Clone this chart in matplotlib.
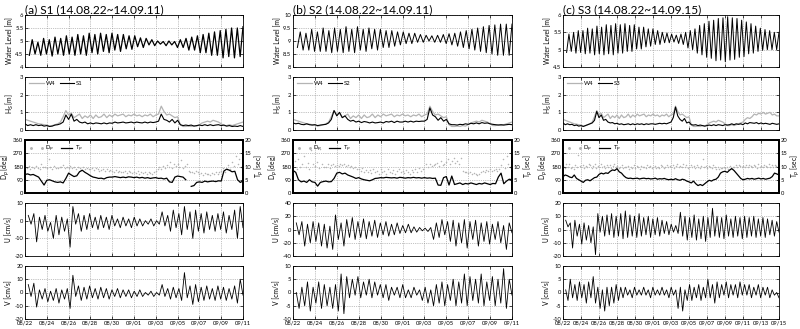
import matplotlib.pyplot as plt
import numpy as np
from matplotlib.lines import Line2D
from matplotlib.ticker import FuncFormatter

plt.rcParams['font.family'] = ['Lato', 'DejaVu Sans']

# ---------------- data ----------------
titles = ['(a) S1 (14.08.22~14.09.11)', '(b) S2 (14.08.22~14.09.11)', '(c) S3 (14.08.22~14.09.15)']
stations = ['S1', 'S2', 'S3']
days = [20, 20, 24]
date_labels = ['08/22', '08/24', '08/26', '08/28', '08/30', '09/01', '09/03',
               '09/05', '09/07', '09/09', '09/11', '09/13', '09/15']

# water level [m], alternating low / high turning points
wl_s1 = [4.45, 5.05, 4.5, 4.95, 4.45, 5.1, 4.5, 5.05, 4.42, 5.15, 4.5, 5.1, 4.45, 5.2, 4.5, 5.15,
         4.45, 5.25, 4.5, 5.2, 4.45, 5.3, 4.55, 5.25, 4.5, 5.3, 4.6, 5.25, 4.55, 5.3, 4.65, 5.25,
         4.6, 5.25, 4.7, 5.2, 4.68, 5.2, 4.78, 5.12, 4.75, 5.1, 4.85, 5.05, 4.82, 5.0, 4.88, 4.98,
         4.82, 5.0, 4.85, 4.98, 4.75, 5.05, 4.75, 5.1, 4.65, 5.15, 4.65, 5.2, 4.55, 5.25, 4.55, 5.3,
         4.45, 5.35, 4.45, 5.4, 4.35, 5.45, 4.4, 5.5, 4.35, 5.5, 4.4, 5.55]
wl_s2 = [8.75, 9.35, 8.65, 9.3, 8.65, 9.45, 8.6, 9.35, 8.6, 9.5, 8.6, 9.4, 8.55, 9.5, 8.6, 9.45,
         8.55, 9.55, 8.6, 9.45, 8.55, 9.55, 8.65, 9.45, 8.6, 9.5, 8.7, 9.45, 8.65, 9.45, 8.75, 9.4,
         8.75, 9.4, 8.8, 9.35, 8.85, 9.35, 8.9, 9.3, 8.9, 9.3, 8.95, 9.25, 8.95, 9.22, 9.0, 9.2,
         8.95, 9.22, 8.95, 9.25, 8.9, 9.28, 8.85, 9.3, 8.8, 9.35, 8.75, 9.4, 8.7, 9.45, 8.65, 9.5,
         8.6, 9.55, 8.55, 9.6, 8.5, 9.62, 8.45, 9.65, 8.45, 9.65, 8.45, 9.65]
wl_s3 = [4.92, 5.45, 4.95, 5.5, 4.9, 5.55, 4.92, 5.55, 4.88, 5.62, 4.9, 5.6, 4.85, 5.68, 4.88, 5.65,
         4.85, 5.72, 4.88, 5.7, 4.85, 5.75, 4.9, 5.72, 4.9, 5.75, 4.95, 5.7, 4.95, 5.72, 5.02, 5.65,
         5.02, 5.65, 5.08, 5.6, 5.1, 5.6, 5.15, 5.55, 5.15, 5.5, 5.2, 5.48, 5.2, 5.45, 5.22, 5.42,
         5.18, 5.45, 5.15, 5.5, 5.05, 5.55, 5.0, 5.6, 4.9, 5.7, 4.85, 5.75, 4.78, 5.82, 4.75, 5.85,
         4.68, 5.9, 4.7, 5.92, 4.65, 5.95, 4.7, 5.92, 4.72, 5.9, 4.78, 5.85, 4.8, 5.8, 4.88, 5.75,
         4.9, 5.68, 4.95, 5.62, 4.98, 5.58, 5.0, 5.55, 5.0, 5.5, 5.0, 5.5]

# significant wave height [m], every 6 h from 08/22
hs_w4 = [0.6, 0.55, 0.5, 0.45, 0.4, 0.35, 0.33, 0.3, 0.28, 0.22, 0.25, 0.3, 0.35, 0.45, 0.75, 1.1,
         0.85, 0.95, 0.7, 0.8, 0.9, 0.65, 0.8, 0.7, 0.85, 0.65, 0.85, 0.7, 0.75, 0.9, 0.7, 0.85,
         0.75, 0.9, 0.8, 0.85, 0.9, 0.75, 0.85, 0.8, 0.9, 0.8, 0.85, 0.75, 0.85, 0.8, 0.9, 0.75,
         0.85, 0.9, 1.35, 1.05, 0.85, 0.9, 0.8, 0.7, 0.75, 0.3, 0.2, 0.2, 0.22, 0.2, 0.25, 0.22,
         0.3, 0.4, 0.45, 0.5, 0.45, 0.55, 0.5, 0.45, 0.35, 0.25, 0.25, 0.3, 0.25, 0.3, 0.35, 0.4,
         0.45, 0.6, 0.7, 0.65, 0.75, 0.9, 0.85, 0.95, 0.9, 1.0, 0.9, 0.95, 1.0, 0.85, 0.9, 0.8, 0.8]
hs_s1 = [0.35, 0.25, 0.3, 0.25, 0.3, 0.25, 0.28, 0.22, 0.25, 0.2, 0.22, 0.28, 0.3, 0.35, 0.45, 0.85,
         0.6, 0.9, 0.5, 0.6, 0.45, 0.4, 0.45, 0.35, 0.4, 0.35, 0.4, 0.38, 0.35, 0.4, 0.35, 0.4,
         0.38, 0.45, 0.4, 0.42, 0.45, 0.4, 0.42, 0.45, 0.4, 0.45, 0.42, 0.4, 0.45, 0.4, 0.45, 0.42,
         0.45, 0.5, 0.9, 0.6, 0.55, 0.45, 0.6, 0.4, 0.55, 0.3, 0.25, 0.28, 0.25, 0.28, 0.22, 0.25,
         0.28, 0.25, 0.3, 0.25, 0.3, 0.25, 0.28, 0.3, 0.25, 0.28, 0.22, 0.25, 0.2, 0.22, 0.2, 0.25, 0.2]
hs_s2 = [0.4, 0.35, 0.38, 0.32, 0.3, 0.35, 0.3, 0.28, 0.3, 0.25, 0.28, 0.3, 0.32, 0.4, 0.6, 1.1,
         0.8, 1.0, 0.7, 0.8, 0.6, 0.5, 0.55, 0.45, 0.5, 0.42, 0.48, 0.45, 0.4, 0.45, 0.4, 0.42,
         0.45, 0.4, 0.48, 0.45, 0.5, 0.42, 0.5, 0.45, 0.45, 0.5, 0.45, 0.5, 0.45, 0.5, 0.48, 0.5,
         0.5, 0.6, 1.25, 0.85, 0.75, 0.55, 0.7, 0.5, 0.6, 0.35, 0.3, 0.3, 0.28, 0.32, 0.3, 0.35,
         0.32, 0.38, 0.35, 0.4, 0.35, 0.42, 0.38, 0.4, 0.35, 0.32, 0.3, 0.28, 0.3, 0.28, 0.3, 0.32, 0.3]
hs_s3 = [0.4, 0.3, 0.35, 0.3, 0.32, 0.25, 0.28, 0.22, 0.25, 0.2, 0.25, 0.3, 0.35, 0.4, 0.55, 1.05,
         0.7, 0.85, 0.55, 0.6, 0.45, 0.4, 0.42, 0.35, 0.38, 0.32, 0.35, 0.3, 0.32, 0.35, 0.3, 0.35,
         0.3, 0.35, 0.32, 0.35, 0.3, 0.35, 0.32, 0.35, 0.35, 0.32, 0.35, 0.38, 0.35, 0.38, 0.35, 0.4,
         0.45, 0.7, 1.3, 0.8, 0.6, 0.5, 0.65, 0.4, 0.45, 0.3, 0.28, 0.3, 0.25, 0.28, 0.25, 0.22,
         0.25, 0.28, 0.25, 0.3, 0.25, 0.3, 0.28, 0.25, 0.3, 0.28, 0.3, 0.35, 0.3, 0.35, 0.32, 0.35,
         0.3, 0.4, 0.35, 0.42, 0.4, 0.38, 0.42, 0.35, 0.4, 0.35, 0.38, 0.35, 0.32, 0.38, 0.35, 0.32, 0.35]

# peak wave direction [deg], every 4 h
dp_s1 = [175, 168, 182, 160, 178, 170, 185, 172, 165, 200, 176, 180, 170, 230, 178, 165, 185, 172,
         168, 180, 175, 190, 170, 176, 172, 185, 168, 178, 162, 180, 170, 158, 175, 165, 172, 160,
         165, 172, 155, 168, 160, 150, 158, 165, 150, 160, 148, 155, 150, 145, 158, 140, 152, 145,
         142, 150, 138, 148, 140, 135, 145, 138, 150, 132, 142, 136, 140, 132, 145, 138, 130, 142,
         150, 165, 178, 160, 185, 170, 190, 175, 210, 168, 195, 182, 200, 178, 225, 170, 185, 195,
         150, 140, 145, 135, 148, 140, 130, 138, 125, 135, 128, 132, 125, 135, 130, 140, 128, 145,
         150, 170, 145, 165, 190, 160, 210, 185, 250, 195, 230, 175, 200]
dp_s2 = [190, 215, 165, 230, 180, 200, 250, 175, 205, 160, 290, 195, 185, 210, 170, 300, 195, 178,
         180, 195, 172, 188, 200, 185, 192, 185, 198, 188, 195, 182, 190, 180, 185, 170, 175, 160,
         165, 150, 170, 145, 158, 140, 155, 135, 165, 145, 150, 130, 160, 140, 150, 128, 165, 145,
         138, 155, 132, 148, 160, 140, 150, 135, 158, 142, 130, 155, 145, 160, 140, 170, 150, 165,
         180, 195, 175, 200, 185, 190, 195, 205, 185, 215, 190, 200, 210, 230, 195, 215, 240, 205,
         220, 200, 235, 150, 140, 145, 135, 140, 128, 138, 130, 125, 132, 140, 150, 145, 155, 150,
         160, 148, 155, 165, 150, 160, 190, 230, 170, 250, 200, 180, 195]
dp_s3 = [185, 170, 195, 178, 200, 172, 180, 165, 190, 175, 260, 182, 175, 190, 168, 185, 178, 195,
         188, 172, 182, 198, 170, 185, 180, 195, 175, 185, 170, 192, 178, 188, 170, 182, 195, 175,
         185, 170, 180, 192, 168, 178, 175, 185, 165, 180, 172, 188, 170, 182, 175, 165, 185, 178,
         180, 168, 190, 175, 182, 170, 175, 185, 170, 180, 168, 188, 182, 172, 178, 190, 175, 185,
         178, 190, 172, 185, 200, 180, 185, 175, 195, 180, 188, 172, 180, 192, 175, 185, 170, 188,
         178, 170, 185, 230, 175, 182, 172, 185, 178, 168, 190, 175, 165, 178, 160, 172, 168, 180,
         170, 175, 165, 182, 172, 178, 180, 188, 175, 192, 185, 178, 185, 178, 192, 175, 188, 182,
         178, 190, 185, 172, 195, 180, 185, 175, 190, 182, 178, 195, 180, 192, 175, 188, 182, 178, 185]

# peak wave period [sec], every 6 h (nan = gap)
tp_s1 = [7.0, 7.2, 6.8, 7.0, 6.5, 6.0, 4.5, 3.0, 4.8, 5.0, 4.6, 4.2, 4.0, 4.2, 3.8, 5.5,
         7.5, 6.8, 6.2, 6.5, 8.0, 8.6, 7.8, 7.2, 6.5, 6.0, 5.8, 5.5, 5.6, 5.3, 5.8, 6.0,
         6.0, 6.2, 6.0, 5.8, 6.0, 5.8, 6.1, 6.0, 5.8, 6.0, 5.7, 5.9, 5.6, 5.8, 5.5, 5.7,
         5.8, 5.5, 5.6, 5.3, 5.6, 4.2, 4.0, 6.0, 6.4, 6.2, 6.0, 5.0, np.nan, 2.5, 2.8, 4.0,
         4.2, 4.0, 4.5, 4.2, 4.4, 4.5, 4.3, 4.6, 4.5, 8.3, 9.0, 8.6, 8.0, 8.2, 5.0, 4.0, 4.5]
tp_s2 = [8.5, 7.8, 5.0, 4.2, 4.5, 4.0, 5.0, 4.2, 4.0, 2.6, 4.0, 4.3, 4.5, 4.2, 4.3, 5.5,
         7.5, 7.8, 7.2, 7.5, 6.8, 6.4, 6.0, 5.5, 5.8, 5.3, 5.0, 4.8, 4.6, 5.0, 5.5, 5.6,
         5.8, 5.7, 5.9, 5.8, 5.7, 5.8, 5.6, 5.9, 5.8, 5.6, 5.8, 5.7, 5.9, 5.7, 5.8, 5.6,
         5.8, 5.6, 5.7, 5.5, 5.6, 3.0, 2.9, 5.8, 6.2, 3.0, 6.4, 3.2, 3.5, 3.8, 3.2, 3.6,
         3.4, 3.8, 3.5, 3.2, 3.6, 3.4, 3.8, 3.5, 3.2, 3.6, 3.5, 6.0, 7.5, 3.5, 4.5, 5.2, 5.0]
tp_s3 = [6.2, 6.8, 6.5, 6.0, 5.8, 6.8, 5.5, 5.0, 4.5, 4.0, 4.8, 5.0, 4.6, 5.2, 5.8, 6.0,
         7.0, 7.5, 7.2, 7.6, 7.4, 8.2, 8.7, 8.5, 9.2, 8.0, 7.5, 6.5, 5.8, 5.5, 5.6, 5.4,
         5.5, 5.6, 5.3, 5.5, 5.6, 5.4, 5.5, 5.3, 5.4, 5.6, 5.2, 5.4, 5.3, 5.5, 5.2, 5.0,
         5.2, 5.0, 5.4, 5.0, 4.8, 5.2, 5.0, 4.5, 4.2, 3.8, 4.5, 3.5, 2.8, 3.2, 2.8, 3.5,
         4.2, 4.8, 4.5, 5.0, 5.2, 6.0, 7.5, 8.0, 8.2, 7.8, 8.6, 9.2, 8.5, 7.5, 6.5, 5.5,
         5.0, 5.2, 5.5, 5.3, 5.5, 5.2, 5.4, 5.6, 5.3, 5.5, 5.2, 5.4, 5.6, 6.2, 7.5, 7.2, 6.8]

# current U [cm/s], alternating high / low turning points
u_s1 = [3, -2, 4, -12, 2, -5, 3, -6, -1, -10, 3, -8, 2, -6, 1, -15, 8, -2, 4, -6,
        3, -5, 4, -4, 2, -5, 3, -4, 2, -5, 3, -3, 1, -4, 2, -3, 1, -4, 2, -3,
        1, -3, 0, -2, 1, -3, 0, -2, 5, -3, 3, -6, 6, -4, 4, -8, 8, -5, 5, -10,
        6, -6, 4, -7, 5, -5, 3, -6, 4, -5, 5, -7, 3, -5, 6, -10, 8, -4]
u_s2 = [10, -8, 12, -25, 8, -20, 12, -18, 10, -25, 8, -28, 5, -30, 22, -15, 10, -25, 15, -12,
        18, -15, 12, -12, 16, -14, 12, -10, 14, -12, 10, -8, 12, -10, 8, -8, 10, -6, 6, -5,
        8, -5, 4, -4, 3, -2, 2, -3, 3, -15, 10, -12, 15, -8, 12, -18, 14, -25, 10, -20,
        15, -28, 12, -15, 14, -25, 10, -18, 12, -22, 8, -15, 12, -20, 6, -30, 10, -5]
u_s3 = [7, 2, 5, -14, 7, -5, 4, -11, 5, -8, 3, -10, 2, -19, 12, -2, 10, -5, 11, -4,
        12, -6, 10, -5, 12, -7, 14, -6, 11, -5, 10, -6, 12, -5, 9, -4, 10, -6, 8, -4,
        9, -5, 7, -3, 6, -4, 4, -2, 3, -3, 13, -5, 10, -8, 9, -6, 11, -8, 8, -7,
        10, -9, 9, -6, 16, -5, 10, -6, 9, -7, 11, -5, 8, -6, 10, -5, 9, -7, 10, -6,
        9, -5, 10, -6, 8, -5, 9, -6, 8, -4, 7, -5, 6, -2]

# current V [cm/s], alternating high / low turning points
v_s1 = [6, -3, 7, -11, 2, -5, 3, -7, 1, -6, 3, -8, 2, -5, 3, -12, 13, -3, 5, -6,
        4, -5, 5, -4, 3, -5, 4, -4, 3, -5, 2, -3, 3, -4, 2, -3, 2, -4, 1, -3,
        2, -3, 0, -2, 1, -3, 0, -2, 6, -3, 3, -5, 4, -4, 3, -6, 15, -4, 5, -9,
        6, -7, 4, -6, 5, -5, 3, -6, 5, -5, 4, -6, 3, -5, 5, -8, 10, -2]
v_s2 = [0, -6, 2, -5, 4, -7, 2, -4, 4, -6, 3, -5, 2, -6, 3, -7, 7, -8, 6, -2,
        5, -1, 6, -2, 4, -1, 5, -2, 4, -1, 3, -2, 3, -3, 2, -1, 2, -2, 3, -2,
        1, -2, 2, -1, 1, -3, 2, -4, 1, -5, 3, -4, 4, -5, 3, -3, 5, -5, 4, -4,
        7, -5, 6, -3, 5, -4, 7, -5, 4, -3, 6, -5, 5, -4, 9, -6, 5, -1]
v_s3 = [1, -3, 5, -2, 3, -3, 4, -2, 3, -4, 4, -2, 6, -4, 2, -6, 1, -7, 2, -5,
        2, -4, 3, -3, 2, -2, 2, -1, 1, -2, 2, -1, 1, -1, 2, -1, 1, -2, 2, -1,
        1, -1, 2, -1, 1, -2, 2, -1, 1, -6, 2, -7, 1, -3, 3, -3, 2, -2, 3, -3,
        2, -2, 5, -2, 3, -4, 4, -2, 3, -1, 4, -2, 3, -1, 3, -2, 4, -1, 3, -1,
        3, -2, 2, -1, 3, -2, 2, -1, 2, -2, 1, -1, 0, -2]

wl_all = [wl_s1, wl_s2, wl_s3]
hs_all = [hs_s1, hs_s2, hs_s3]
dp_all = [dp_s1, dp_s2, dp_s3]
tp_all = [tp_s1, tp_s2, tp_s3]
u_all = [u_s1, u_s2, u_s3]
v_all = [v_s1, v_s2, v_s3]

wl_ticks = [[4, 4.5, 5, 5.5, 6], [8, 8.5, 9, 9.5, 10], [4.5, 5, 5.5, 6]]
u_ticks = [[-20, -10, 0, 10], [-40, -20, 0, 20, 40], [-20, -10, 0, 10, 20]]
v_ticks = [[-20, -10, 0, 10, 20], [-10, -5, 0, 5, 10], [-10, -5, 0, 5, 10]]

# ---------------- layout ----------------
W, H = 800, 329
col_px = [(25, 243), (293, 512), (563, 779)]
row_px = [(15, 67), (77, 130), (140, 193), (203, 256), (266, 319)]
fs = 4.2     # tick labels
fl = 4.8     # axis labels
gfmt = FuncFormatter(lambda v, p: '%g' % v)

fig = plt.figure(figsize=(W / 100, H / 100), dpi=100)


def style(ax, nd, yt, show_x):
    ax.set_xlim(0, nd)
    ax.set_xticks(np.arange(0, nd + 1, 2))
    if show_x:
        ax.set_xticklabels(date_labels[:len(ax.get_xticks())])
    else:
        ax.set_xticklabels([])
    ax.set_yticks(yt)
    ax.set_ylim(yt[0], yt[-1])
    ax.yaxis.set_major_formatter(gfmt)
    ax.tick_params(direction='in', length=2, width=0.5, labelsize=fs, pad=1.2,
                   top=True, right=True)
    ax.grid(True, linestyle=':', color='#888888', linewidth=0.5)
    for s in ax.spines.values():
        s.set_linewidth(0.6)


for c in range(3):
    nd = days[c]
    x0, x1 = col_px[c]
    axs = []
    for r in range(5):
        top, bot = row_px[r]
        axs.append(fig.add_axes([x0 / W, 1 - bot / H, (x1 - x0) / W, (bot - top) / H]))

    # water level
    ax = axs[0]
    wl = wl_all[c]
    ax.plot(np.linspace(0.4, nd, len(wl)), wl, color='k', lw=0.9 if c == 0 else 0.7)
    style(ax, nd, wl_ticks[c], False)
    ax.set_ylabel('Water Level [m]', fontsize=fl, labelpad=1.5)
    ax.set_title(titles[c], fontsize=8.6, loc='left', pad=1.5, x=0.0)

    # wave height
    ax = axs[1]
    w4 = hs_w4[:4 * nd + 1]
    ax.plot(np.linspace(0, nd, len(w4)), w4, color='#b4b4b4', lw=0.9, label='W4')
    hs = hs_all[c]
    ax.plot(np.linspace(0, nd, len(hs)), hs, color='k', lw=0.8, label=stations[c])
    style(ax, nd, [0, 1, 2, 3], False)
    ax.set_ylabel('H$_S$ [m]', fontsize=fl, labelpad=2.5)
    ax.legend(loc='upper left', ncol=2, frameon=False, fontsize=fs, handlelength=2.5,
              columnspacing=0.8, handletextpad=0.3, borderaxespad=0.3)

    # direction / period
    ax = axs[2]
    dp = dp_all[c]
    ax.plot(np.linspace(0, nd, len(dp)), dp, '.', color='#b4b4b4', ms=2.2, mew=0)
    style(ax, nd, [0, 90, 180, 270, 360], False)
    ax.tick_params(right=False)
    ax.set_ylabel('D$_p$ [deg]', fontsize=fl, labelpad=0.5)
    tx = ax.twinx()
    tp = tp_all[c]
    tx.plot(np.linspace(0, nd, len(tp)), tp, color='k', lw=0.9)
    tx.set_ylim(0, 20)
    tx.set_yticks([0, 5, 10, 15, 20])
    tx.tick_params(direction='in', length=2, width=0.5, labelsize=fs, pad=1.2)
    tx.set_ylabel('T$_p$ [sec]', fontsize=fl, labelpad=0.5)
    for a in (ax, tx):
        for s in a.spines.values():
            s.set_linewidth(1.3)
    handles = [Line2D([], [], ls='none', marker='.', ms=2.2, color='#b4b4b4'),
               Line2D([], [], color='k', lw=0.9)]
    tx.legend(handles, ['D$_p$', 'T$_p$'], loc='upper left', ncol=2, frameon=False,
              fontsize=fs, numpoints=2, handlelength=2.5, columnspacing=0.8,
              handletextpad=0.3, borderaxespad=0.3)

    # U
    ax = axs[3]
    u = u_all[c]
    ax.plot(np.linspace(0.3, nd, len(u)), u, color='k', lw=0.6)
    style(ax, nd, u_ticks[c], False)
    ax.set_ylabel('U [cm/s]', fontsize=fl, labelpad=1.5)

    # V
    ax = axs[4]
    v = v_all[c]
    ax.plot(np.linspace(0.3, nd, len(v)), v, color='k', lw=0.6)
    style(ax, nd, v_ticks[c], True)
    ax.set_ylabel('V [cm/s]', fontsize=fl, labelpad=1.5)

fig.savefig('out.png', dpi=100)
